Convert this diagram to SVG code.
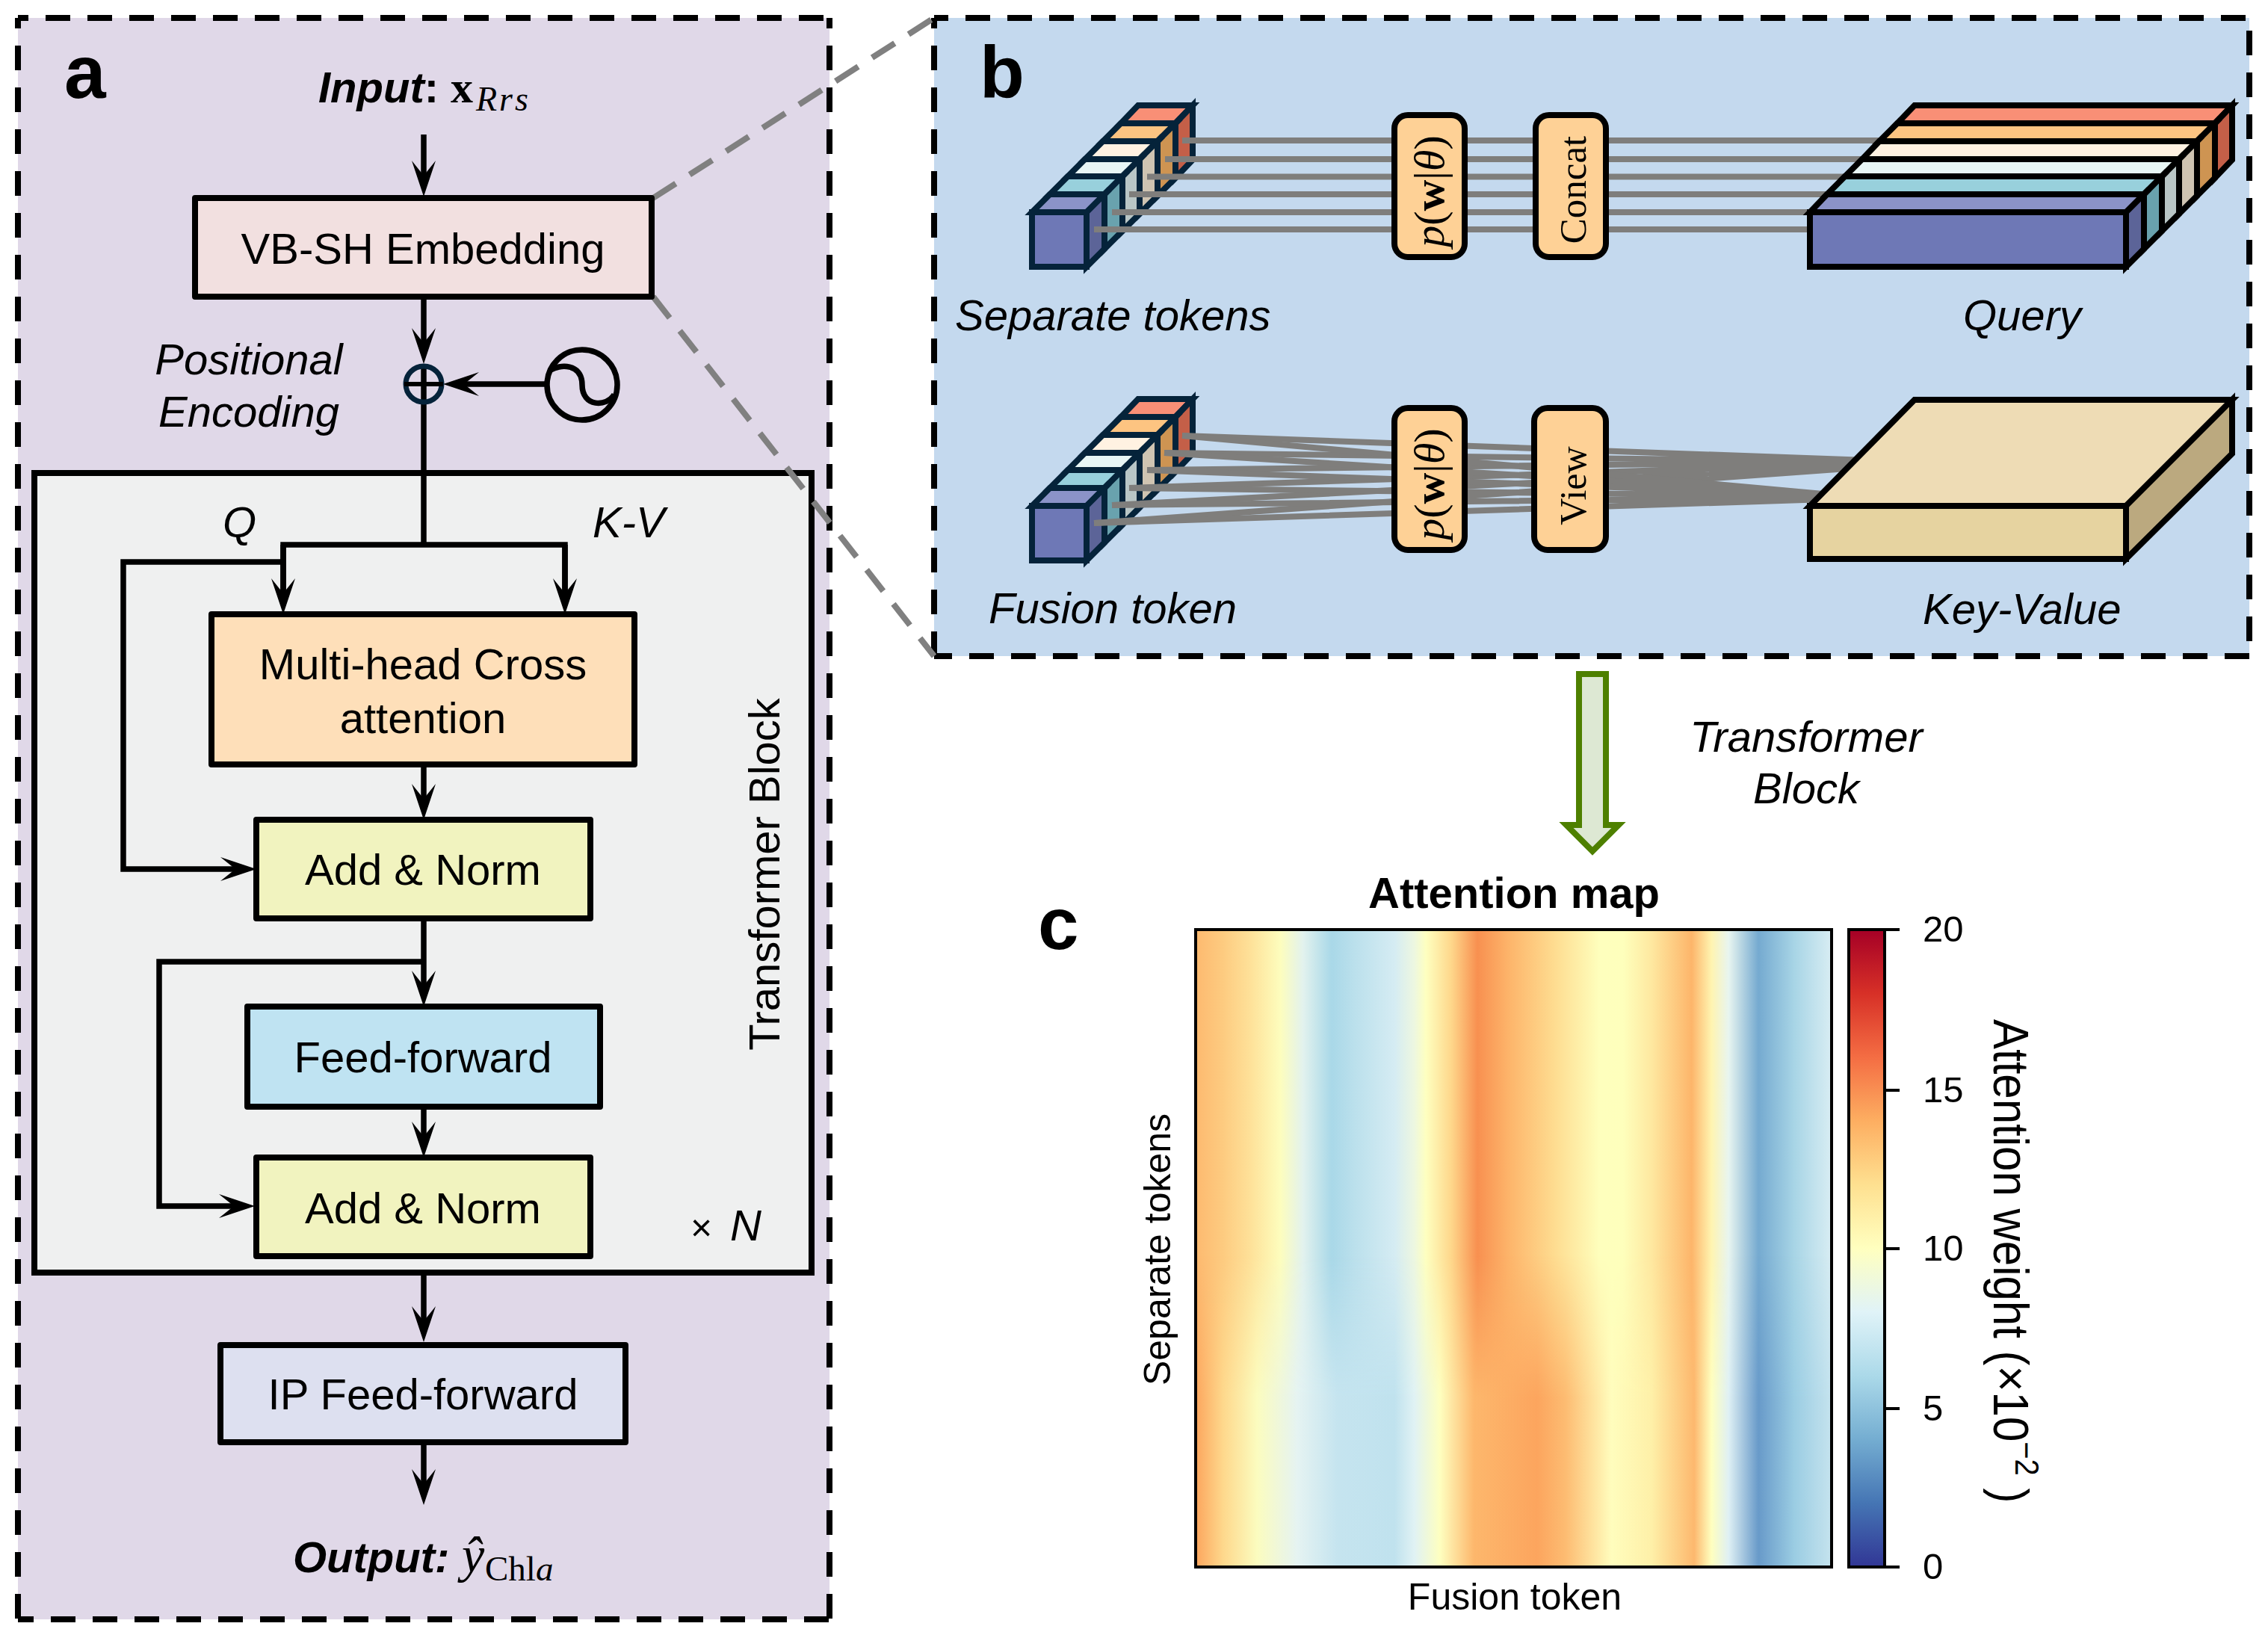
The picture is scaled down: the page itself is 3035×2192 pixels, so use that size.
<svg xmlns="http://www.w3.org/2000/svg" width="3035" height="2192" viewBox="0 0 3035 2192">
<style>
text{font-family:"Liberation Sans",Arial,sans-serif;fill:#000}
.t58{font-size:58px}.mid{text-anchor:middle}.it{font-style:italic}.bd{font-weight:bold}
.serif{font-family:"Liberation Serif","Times New Roman",serif}
.dash{fill:none;stroke:#000;stroke-width:8;stroke-dasharray:33 23}
.box{stroke:#000;stroke-width:8;stroke-linejoin:round}
.rbox{fill:#fed196;stroke:#000;stroke-width:8}
.wire{fill:none;stroke:#000;stroke-width:7.500}
.arrow{fill:none;stroke:#000;stroke-width:7.500;marker-end:url(#head)}
.gray{stroke:#7f7e7c;stroke-width:8;fill:none}
.guide{stroke:#808080;stroke-width:8;stroke-dasharray:36 22;fill:none}
.edge{stroke:#05233a;stroke-width:8;stroke-linejoin:miter}
.edgek{stroke:#000;stroke-width:8;stroke-linejoin:miter}
.c1t{fill:#8b93c8}.c2t{fill:#98d0dc}.c3t{fill:#e8f6f5}.c4t{fill:#fff2e2}.c5t{fill:#fdc481}.c6t{fill:#f98f76}
.c1s{fill:#5c6498}.c2s{fill:#69a2ae}.c3s{fill:#b9c6c6}.c4s{fill:#cfc4b2}.c5s{fill:#ce9452}.c6s{fill:#c45f48}
.front{fill:#6e78b6}
</style>
<defs>
<marker id="head" markerUnits="userSpaceOnUse" markerWidth="50" markerHeight="34" refX="28" refY="16" orient="auto">
<path d="M48 16L0 0L20 16L0 32Z" fill="#000"/>
</marker>
<linearGradient id="mapTop" gradientUnits="userSpaceOnUse" x1="1600" y1="0" x2="2451" y2="0">
<stop offset="0" stop-color="#fdb96f"/><stop offset=".043" stop-color="#fdcb80"/><stop offset=".088" stop-color="#fee29a"/><stop offset=".133" stop-color="#fdfdbd"/><stop offset=".169" stop-color="#e2f2ee"/><stop offset=".214" stop-color="#a9d8e8"/><stop offset=".25" stop-color="#bbe0ec"/><stop offset=".313" stop-color="#d5ecf3"/><stop offset=".344" stop-color="#edf7e0"/><stop offset=".362" stop-color="#feffc0"/><stop offset=".402" stop-color="#fed78b"/><stop offset=".443" stop-color="#f89050"/><stop offset=".492" stop-color="#fdb46a"/><stop offset=".564" stop-color="#fedc90"/><stop offset=".636" stop-color="#feffbd"/><stop offset=".672" stop-color="#feffbc"/><stop offset=".717" stop-color="#fee8a0"/><stop offset=".78" stop-color="#fdb56a"/><stop offset=".811" stop-color="#fff4b0"/><stop offset=".838" stop-color="#e8f5f0"/><stop offset=".885" stop-color="#75aad0"/><stop offset=".942" stop-color="#a8d5e6"/><stop offset="1" stop-color="#d8edf3"/>
</linearGradient>
<linearGradient id="mapBot" gradientUnits="userSpaceOnUse" x1="1600" y1="0" x2="2451" y2="0">
<stop offset="0" stop-color="#fca55d"/><stop offset=".043" stop-color="#fed88c"/><stop offset=".097" stop-color="#fbfcbf"/><stop offset=".16" stop-color="#e5f3f2"/><stop offset=".223" stop-color="#c5e4ef"/><stop offset=".313" stop-color="#c0e2ee"/><stop offset=".344" stop-color="#e0f2f4"/><stop offset=".384" stop-color="#feffc0"/><stop offset=".438" stop-color="#fdb76c"/><stop offset=".537" stop-color="#fca55e"/><stop offset=".582" stop-color="#fdbc72"/><stop offset=".654" stop-color="#fffdbd"/><stop offset=".717" stop-color="#fef0a8"/><stop offset=".784" stop-color="#fdb86e"/><stop offset=".811" stop-color="#ffffbf"/><stop offset=".838" stop-color="#dff0f4"/><stop offset=".885" stop-color="#689ac9"/><stop offset=".942" stop-color="#9bcde3"/><stop offset="1" stop-color="#c5e3ee"/>
</linearGradient>
<linearGradient id="fade" gradientUnits="userSpaceOnUse" x1="0" y1="1680" x2="0" y2="1870">
<stop offset="0" stop-color="#000"/><stop offset="1" stop-color="#fff"/>
</linearGradient>
<mask id="botMask" maskUnits="userSpaceOnUse" x="1600" y="1244" width="851" height="853"><rect x="1600" y="1244" width="851" height="853" fill="url(#fade)"/></mask>
<linearGradient id="cbar" x1="0" y1="1" x2="0" y2="0">
<stop offset="0" stop-color="#313695"/><stop offset=".1" stop-color="#4575b4"/><stop offset=".2" stop-color="#74add1"/><stop offset=".3" stop-color="#abd9e9"/><stop offset=".4" stop-color="#e0f3f8"/><stop offset=".5" stop-color="#ffffbf"/><stop offset=".6" stop-color="#fee090"/><stop offset=".7" stop-color="#fdae61"/><stop offset=".8" stop-color="#f46d43"/><stop offset=".9" stop-color="#d73027"/><stop offset="1" stop-color="#a50026"/>
</linearGradient>
</defs>

<g id="panel-a">
<rect x="24" y="24" width="1086" height="2143" fill="#e0d8e8"/>
<path class="dash" stroke-dashoffset="19" d="M24 24H1110M24 24V2167M1110 24V2167"/>
<path class="dash" stroke-dashoffset="12" d="M24 2167H1110"/>
<text x="86" y="131" font-size="100" class="bd">a</text>
</g>
<g id="panel-b">
<rect x="1250" y="24" width="1760" height="854" fill="#c4d9ee"/>
<path class="dash" stroke-dashoffset="14" d="M1250 24H3010"/>
<path class="dash" stroke-dashoffset="19" d="M1250 24V878"/>
<path class="dash" stroke-dashoffset="39" d="M3010 24V878"/>
<path class="dash" stroke-dashoffset="9" d="M1250 878H3010"/>
<text x="1311" y="130" font-size="98" class="bd">b</text>
<text x="1278" y="442" class="t58 it">Separate tokens</text>
<text x="1323" y="834" class="t58 it">Fusion token</text>
<text x="2627" y="442" class="t58 it">Query</text>
<text x="2573" y="835" class="t58 it">Key-Value</text>
</g>
<g id="transformer-block">
<rect x="46" y="633" width="1040" height="1070" fill="#eff0f0" stroke="#000" stroke-width="8"/>
<text transform="translate(1043 1170) rotate(-90)" class="t58 mid">Transformer Block</text>
<text x="924" y="1660" font-size="50">×</text>
<text x="977" y="1660" class="t58 it">N</text>
<text x="298" y="719" class="t58 it">Q</text>
<text x="793" y="719" class="t58 it">K-V</text>
</g>
<g id="tokens-separate">
<path class="edge c6t" d="M1500 165h73l23-24h-73z"/><path class="edge c6s" d="M1573 165l23-24v73l-23 24z"/>
<path class="edge c5t" d="M1476 189h73l24-24h-73z"/><path class="edge c5s" d="M1549 189l24-24v73l-24 24z"/>
<path class="edge c4t" d="M1452 213h73l24-24h-73z"/><path class="edge c4s" d="M1525 213l24-24v73l-24 24z"/>
<path class="edge c3t" d="M1429 236h73l23-23h-73z"/><path class="edge c3s" d="M1502 236l23-23v73l-23 23z"/>
<path class="edge c2t" d="M1405 260h73l24-24h-73z"/><path class="edge c2s" d="M1478 260l24-24v73l-24 24z"/>
<path class="edge c1t" d="M1381 284h73l24-24h-73z"/><path class="edge c1s" d="M1454 284l24-24v73l-24 24z"/>
<rect class="edge front" x="1381" y="284" width="73" height="73"/>
</g>
<g id="tokens-fusion">
<path class="edge c6t" d="M1500 558h73l23-24h-73z"/><path class="edge c6s" d="M1573 558l23-24v73l-23 24z"/>
<path class="edge c5t" d="M1476 582h73l24-24h-73z"/><path class="edge c5s" d="M1549 582l24-24v73l-24 24z"/>
<path class="edge c4t" d="M1452 606h73l24-24h-73z"/><path class="edge c4s" d="M1525 606l24-24v73l-24 24z"/>
<path class="edge c3t" d="M1429 629h73l23-23h-73z"/><path class="edge c3s" d="M1502 629l23-23v73l-23 23z"/>
<path class="edge c2t" d="M1405 653h73l24-24h-73z"/><path class="edge c2s" d="M1478 653l24-24v73l-24 24z"/>
<path class="edge c1t" d="M1381 677h73l24-24h-73z"/><path class="edge c1s" d="M1454 677l24-24v73l-24 24z"/>
<rect class="edge front" x="1381" y="677" width="73" height="73"/>
</g>

<g id="connectors">
<path class="arrow" d="M567 180V243"/>
<path class="arrow" d="M567 397V467"/>
<path class="arrow" d="M730 514H613"/>
<path class="wire" d="M567 490V729"/>
<path class="wire" d="M379 810V729H756V810"/>
<path class="arrow" d="M379 729V802"/>
<path class="arrow" d="M756 729V802"/>
<path class="arrow" d="M379 752H165V1163H323"/>
<path class="arrow" d="M567 1023V1077"/>
<path class="arrow" d="M567 1229V1327"/>
<path class="arrow" d="M567 1287H213V1614H321"/>
<path class="arrow" d="M567 1481V1529"/>
<path class="arrow" d="M567 1703V1776"/>
<path class="arrow" d="M567 1930V1994"/>
<line class="guide" x1="874" y1="265" x2="1250" y2="24"/>
<line class="guide" x1="874" y1="397" x2="1250" y2="878"/>
<g class="gray">
<path d="M1582 188H2540M1559 213H2540M1535 236.500H2540M1511 260H2540M1488 284H2540M1464 307H2540"/>
<path d="M1582 583L2500 616M1558 606L2500 618M1535 629L2500 618M1511 653L2500 620M1488 676L2500 622M1464 700L2500 625"/>
<path d="M1582 583L2445 661.400M1558 606L2445 662M1535 629L2445 662.400M1511 653L2445 664M1488 676L2445 666M1464 700L2445 668"/>
</g>
</g>

<g id="input-label">
<text x="426" y="137" class="t58 it bd">Input<tspan font-style="normal">:</tspan></text>
<text x="603" y="137" class="serif bd" font-size="60">x</text>
<text x="637" y="148" class="serif it" font-size="46" letter-spacing="3">Rrs</text>
</g>
<g id="vb-sh-embedding">
<rect class="box" x="261" y="265" width="611" height="132" fill="#f2e0e0"/>
<text x="566" y="353" class="t58 mid">VB-SH Embedding</text>
</g>
<g id="positional-encoding">
<text x="333" y="501" class="t58 it mid">Positional</text>
<text x="333" y="571" class="t58 it mid">Encoding</text>
</g>
<g id="adder">
<circle cx="567" cy="514" r="24" fill="none" stroke="#05233a" stroke-width="7"/>
<path d="M541 514H593" stroke="#000" stroke-width="6"/>
</g>
<g id="sine-source">
<circle cx="779" cy="515" r="47" fill="none" stroke="#000" stroke-width="7.500"/>
<path d="M737 495C748 488 779 485 779 515C779 545 812 545 822 528" fill="none" stroke="#000" stroke-width="7.500"/>
</g>
<g id="multi-head">
<rect class="box" x="283" y="822" width="566" height="201" fill="#fedfb9"/>
<text x="566" y="909" class="t58 mid">Multi-head Cross</text>
<text x="566" y="981" class="t58 mid">attention</text>
</g>
<g id="add-norm-1">
<rect class="box" x="343" y="1097" width="447" height="132" fill="#f1f3bf"/>
<text x="566" y="1184" class="t58 mid">Add &amp; Norm</text>
</g>
<g id="feed-forward">
<rect class="box" x="331" y="1347" width="472" height="134" fill="#bfe3f2"/>
<text x="566" y="1435" class="t58 mid">Feed-forward</text>
</g>
<g id="add-norm-2">
<rect class="box" x="343" y="1549" width="447" height="132" fill="#f1f3bf"/>
<text x="566" y="1637" class="t58 mid">Add &amp; Norm</text>
</g>
<g id="ip-feed-forward">
<rect class="box" x="295" y="1800" width="542" height="130" fill="#dde0f0"/>
<text x="566" y="1886" class="t58 mid">IP Feed-forward</text>
</g>
<g id="output-label">
<text x="392" y="2104" class="t58 it bd">Output:</text>
<text x="618" y="2104" class="serif it" font-size="68">ŷ</text>
<text x="649" y="2115" class="serif" font-size="47">Chl<tspan font-style="italic">a</tspan></text>
</g>

<g id="p-box-1">
<rect class="rbox" x="1866" y="154" width="94" height="190" rx="18"/>
<text transform="translate(1932 256) rotate(-90)" class="serif mid" font-size="58"><tspan font-style="italic">p</tspan>(<tspan font-weight="bold">w</tspan>|<tspan font-style="italic">θ</tspan>)</text>
</g>
<g id="concat-box">
<rect class="rbox" x="2055" y="154" width="94" height="190" rx="18"/>
<text transform="translate(2122 254) rotate(-90)" class="serif mid" font-size="51">Concat</text>
</g>
<g id="p-box-2">
<rect class="rbox" x="1866" y="546" width="94" height="190" rx="18"/>
<text transform="translate(1932 648) rotate(-90)" class="serif mid" font-size="58"><tspan font-style="italic">p</tspan>(<tspan font-weight="bold">w</tspan>|<tspan font-style="italic">θ</tspan>)</text>
</g>
<g id="view-box">
<rect class="rbox" x="2053" y="546" width="96" height="190" rx="18"/>
<text transform="translate(2122 650) rotate(-90)" class="serif mid" font-size="50">View</text>
</g>
<g id="query">
<path class="edgek c6t" d="M2539 165H2964L2987 141H2562Z"/><path class="edgek c6s" d="M2964 165L2987 141V214L2964 238Z"/>
<path class="edgek c5t" d="M2515 189H2940L2964 165H2539Z"/><path class="edgek c5s" d="M2940 189L2964 165V238L2940 262Z"/>
<path class="edgek c4t" d="M2492 213H2916L2940 189H2515Z"/><path class="edgek c4s" d="M2916 213L2940 189V262L2916 286Z"/>
<path class="edgek c3t" d="M2469 236H2893L2916 213H2492Z"/><path class="edgek c3s" d="M2893 236L2916 213V286L2893 309Z"/>
<path class="edgek c2t" d="M2445 260H2869L2893 236H2469Z"/><path class="edgek c2s" d="M2869 260L2893 236V309L2869 333Z"/>
<path class="edgek c1t" d="M2422 284H2845L2869 260H2445Z"/><path class="edgek c1s" d="M2845 284L2869 260V333L2845 357Z"/>
<rect class="edgek front" x="2422" y="284" width="423" height="73"/>
</g>
<g id="key-value">
<path class="edgek" fill="#eedcb5" d="M2422 677H2845L2987 535H2562Z"/>
<path class="edgek" fill="#bba97f" d="M2845 677L2987 535V607L2845 748Z"/>
<rect class="edgek" fill="#e6d3a0" x="2422" y="677" width="423" height="71"/>
</g>

<g id="transformer-arrow">
<path d="M2113 902H2149V1104H2166L2131 1139L2096 1104H2113Z" fill="#dde8d3" stroke="#4e8000" stroke-width="8"/>
<text x="2417" y="1006" class="t58 it mid">Transformer</text>
<text x="2417" y="1075" class="t58 it mid">Block</text>
</g>
<g id="panel-c">
<text x="1389" y="1270" font-size="98" class="bd">c</text>
<text x="2026" y="1215" class="t58 bd mid">Attention map</text>
<rect x="1600" y="1244" width="851" height="853" fill="url(#mapTop)"/>
<rect x="1600" y="1244" width="851" height="853" fill="url(#mapBot)" mask="url(#botMask)"/>
<rect x="1600" y="1244" width="851" height="853" fill="none" stroke="#000" stroke-width="4"/>
<text x="2027" y="2154" font-size="50" class="mid">Fusion token</text>
<text transform="translate(1566 1672) rotate(-90)" font-size="50" class="mid">Separate tokens</text>
<rect x="2474" y="1244" width="48" height="853" fill="url(#cbar)" stroke="#000" stroke-width="4"/>
<path d="M2522 1244H2542M2522 1459H2542M2522 1671H2542M2522 1885H2542M2522 2097H2542" stroke="#000" stroke-width="4"/>
<g font-size="49">
<text x="2573" y="1260">20</text><text x="2573" y="1475">15</text><text x="2573" y="1687">10</text><text x="2573" y="1901">5</text><text x="2573" y="2113">0</text>
</g>
<text transform="translate(2668 1364) rotate(90) scale(1 1.12)" font-size="60">Attention weight (×10<tspan font-size="40" dy="-26">−2</tspan><tspan dy="26"> )</tspan></text>
</g>
</svg>
